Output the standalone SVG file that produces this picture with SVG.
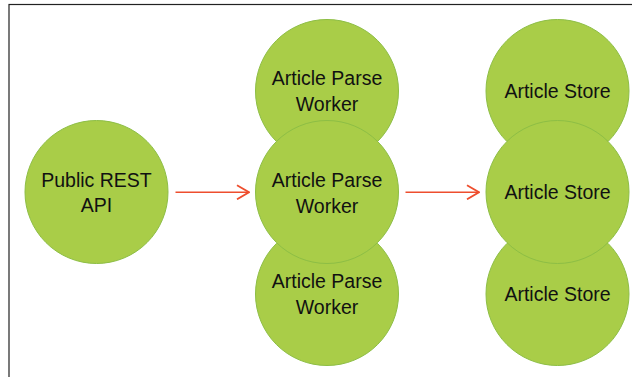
<svg xmlns="http://www.w3.org/2000/svg" width="632" height="377" viewBox="0 0 632 377">
<style>
.n{fill:#A9CD48;stroke:#8DBE45;stroke-width:1}
.t{font-family:"Liberation Sans",Arial,sans-serif;font-size:19.5px;fill:#111;text-anchor:middle}
.c{stroke:#EE4E2E;stroke-width:1.6;fill:none}
</style>
<defs>
<marker id="ah" viewBox="0 0 14 16" refX="13" refY="8" markerWidth="14" markerHeight="16" markerUnits="userSpaceOnUse" orient="auto">
<path d="M1,1 L13,8 L1,15" fill="none" stroke="#EE4E2E" stroke-width="1.8"/>
</marker>
</defs>
<rect x="9" y="4.5" width="630" height="380" fill="#fff" stroke="#222" stroke-width="1.2"/>
<g id="api">
<circle class="n" cx="96.5" cy="192" r="71.5"/>
<text class="t" x="96.5" y="187">Public REST</text>
<text class="t" x="96.5" y="212">API</text>
</g>
<g id="worker1">
<circle class="n" cx="327" cy="91" r="71.5"/>
<text class="t" x="327" y="85">Article Parse</text>
<text class="t" x="327" y="111">Worker</text>
</g>
<g id="worker3">
<circle class="n" cx="327" cy="294" r="71.5"/>
<text class="t" x="327" y="288">Article Parse</text>
<text class="t" x="327" y="314">Worker</text>
</g>
<g id="worker2">
<circle class="n" cx="327" cy="192" r="71.5"/>
<text class="t" x="327" y="187">Article Parse</text>
<text class="t" x="327" y="213">Worker</text>
</g>
<g id="store1">
<circle class="n" cx="557.5" cy="91" r="71.5"/>
<text class="t" x="557.5" y="98">Article Store</text>
</g>
<g id="store3">
<circle class="n" cx="557.5" cy="294" r="71.5"/>
<text class="t" x="557.5" y="301">Article Store</text>
</g>
<g id="store2">
<circle class="n" cx="557.5" cy="192" r="71.5"/>
<text class="t" x="557.5" y="199">Article Store</text>
</g>
<g id="connectors">
<line class="c" x1="175.5" y1="192.3" x2="249" y2="192.3" marker-end="url(#ah)"/>
<line class="c" x1="405.5" y1="192.3" x2="479" y2="192.3" marker-end="url(#ah)"/>
</g>
</svg>
